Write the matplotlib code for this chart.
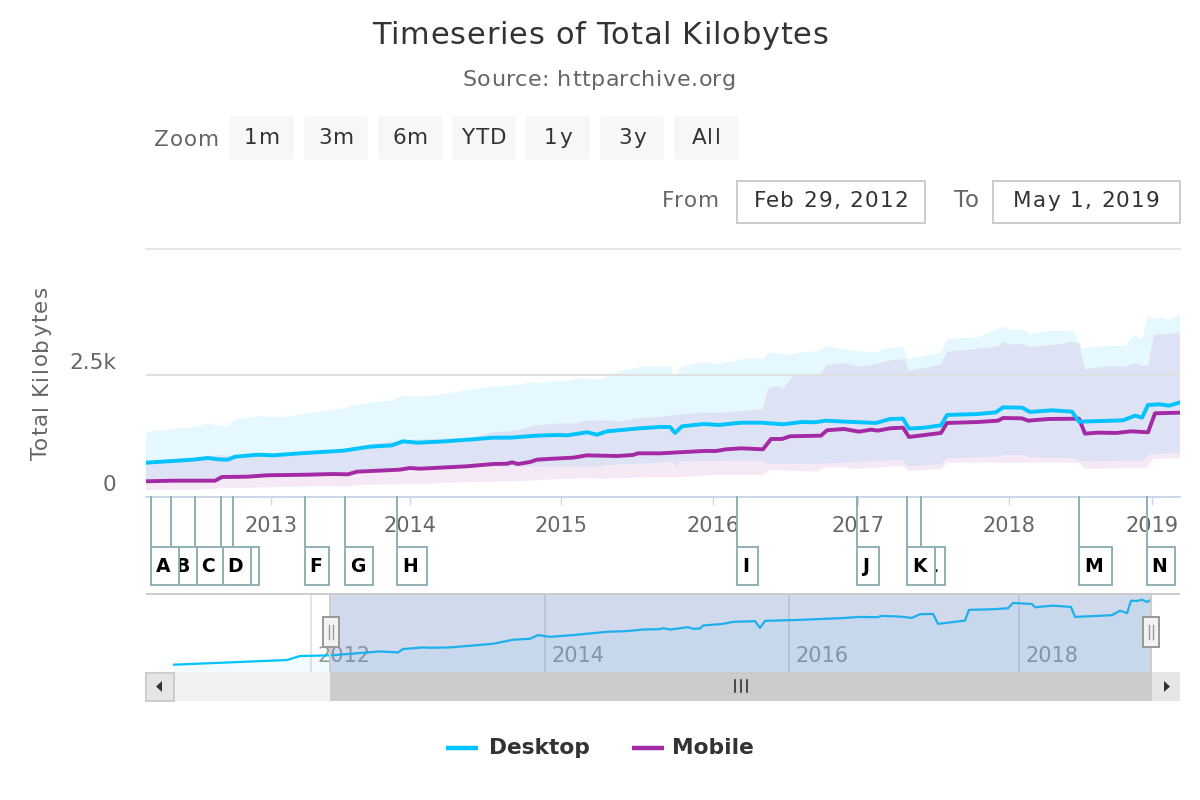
import numpy as np
import matplotlib
matplotlib.use('Agg')
import matplotlib.pyplot as plt
from matplotlib.patches import Rectangle, Polygon, FancyBboxPatch
from matplotlib.font_manager import FontProperties
from matplotlib.textpath import text_to_path

# Highstock ordinal axis: x is the slot position along the axis, not a date
desktop = [(146,703),(173,738),(193,765),(208,799),(218,772),(228,765),(235,826),(258,867),(273,854),
           (300,895),(343,949),(370,1031),(392,1059),(403,1141),(417,1113),(440,1134),(473,1182),(493,1216),
           (510,1216),(537,1257),(557,1271),(567,1264),(587,1326),(597,1277),(607,1346),(640,1408),(660,1435),
           (670,1435),(675,1312),(682,1449),(704,1496),(719,1476),(741,1523),(761,1523),(783,1490),(802,1537),
           (815,1531),(826,1564),(846,1543),(876,1517),(890,1599),(903,1605),(909,1400),(924,1421),(941,1469),
           (947,1681),(978,1701),(996,1736),(1003,1838),(1022,1831),(1030,1743),(1052,1777),(1072,1749),
           (1079,1543),(1103,1558),(1123,1572),(1135,1667),(1142,1626),(1148,1886),(1160,1900),(1169,1872),(1180,1940)]
mobile = [(146,322),(173,334),(193,334),(215,334),(222,410),(247,416),(267,445),(307,457),(333,471),(348,465),
          (357,519),(400,560),(410,594),(420,580),(467,629),(493,676),(507,682),(512,711),(518,676),(530,717),
          (537,765),(553,785),(573,806),(587,854),(617,840),(633,861),(638,895),(660,895),(704,943),(716,943),
          (726,977),(741,998),(763,977),(771,1189),(782,1189),(790,1244),(821,1257),(827,1367),(844,1394),
          (859,1339),(871,1380),(878,1360),(890,1408),(903,1421),(909,1230),(941,1312),(947,1517),(978,1537),
          (998,1564),(1003,1619),(1022,1612),(1028,1564),(1049,1599),(1079,1605),(1085,1298),(1098,1319),
          (1116,1312),(1131,1346),(1148,1326),(1155,1715),(1180,1728)]
desktop_hi = [(146,1318),(153,1359),(170,1374),(177,1408),(192,1421),(208,1510),(220,1455),(228,1455),(235,1592),
              (243,1605),(260,1660),(273,1633),(283,1640),(317,1736),(343,1818),(370,1940),(392,1974),(405,2091),
              (413,2050),(437,2091),(483,2240),(517,2296),(530,2351),(542,2330),(553,2384),(563,2357),(580,2439),
              (590,2412),(602,2412),(610,2521),(640,2665),(660,2678),(670,2678),(675,2433),(680,2665),(704,2774),
              (719,2726),(745,2835),(763,2835),(768,2958),(790,2910),(802,2972),(817,2986),(826,3100),(843,3018),
              (873,2958),(890,3060),(903,3081),(908,2828),(941,2958),(947,3237),(979,3278),(1003,3489),(1011,3422),
              (1023,3443),(1030,3327),(1049,3408),(1074,3402),(1082,3046),(1099,3087),(1125,3100),(1135,3320),
              (1142,3217),(1148,3709),(1153,3648),(1160,3682),(1169,3627),(1180,3750)]
desktop_lo = [(146,320),(215,340),(222,420),(307,470),(357,530),(407,590),(473,621),(523,621),(573,635),(597,621),
              (607,656),(660,703),(672,724),(677,621),(680,724),(761,744),(768,676),(817,676),(886,744),(903,758),
              (908,621),(941,676),(947,793),(998,826),(1003,861),(1023,861),(1030,813),(1074,793),(1082,724),
              (1143,744),(1148,861),(1180,915)]
mobile_hi = [(146,724),(220,861),(235,826),(283,895),(343,963),(370,1086),(407,1168),(473,1223),(493,1326),(517,1359),
             (533,1461),(560,1510),(577,1510),(583,1558),(607,1572),(623,1551),(640,1619),(660,1640),(677,1681),
             (704,1736),(719,1722),(763,1804),(768,2228),(777,2275),(783,2214),(793,2487),(821,2535),(827,2706),
             (844,2747),(859,2671),(876,2726),(893,2808),(905,2822),(908,2583),(941,2712),(947,2979),(998,3081),
             (1003,3184),(1011,3122),(1023,3136),(1030,3075),(1062,3136),(1071,3184),(1079,3151),(1085,2617),
             (1099,2658),(1108,2678),(1125,2665),(1135,2747),(1142,2685),(1148,2692),(1154,3327),(1180,3367)]
mobile_lo = [(146,143),(193,143),(220,178),(273,199),(327,225),(347,211),(360,246),(407,260),(473,307),(520,322),
             (553,363),(590,389),(600,375),(660,410),(684,410),(711,451),(763,451),(770,553),(817,519),(826,608),
             (843,608),(856,574),(880,608),(903,635),(908,539),(941,567),(947,703),(1079,703),(1085,574),(1147,594),
             (1153,779),(1180,793)]
navigator = [(174,542),(240,599),(287,640),(300,724),(330,737),(380,820),(398,799),(403,870),(423,904),(430,897),
             (450,904),(493,981),(513,1065),(530,1086),(538,1163),(550,1127),(573,1163),(607,1232),(627,1247),
             (643,1280),(660,1288),(663,1309),(670,1280),(688,1330),(693,1295),(700,1301),(703,1364),(723,1399),
             (733,1441),(755,1456),(760,1315),(765,1462),(800,1483),(840,1518),(860,1545),(877,1539),(882,1566),
             (900,1552),(912,1524),(920,1602),(933,1608),(938,1399),(965,1468),(969,1692),(993,1706),(1008,1727),
             (1013,1838),(1032,1817),(1035,1748),(1053,1782),(1071,1754),(1075,1545),(1097,1566),(1112,1581),
             (1120,1677),(1127,1623),(1131,1886),(1137,1880),(1142,1907),(1147,1859),(1150,1894)]

# letter, stem position, box left, box right
flags = [('A',151,151,179),('B',171,171,197),('C',195,197,223),('D',221,223,251),('E',233,233,259),
         ('F',305,305,329),('G',345,345,373),('H',397,397,427),('I',737,737,758),('J',857,857,879),
         ('K',907,907,935),('L',921,921,945),('M',1079,1079,1112),('N',1147,1147,1175)]

year_ticks = {'2013':271,'2014':410,'2015':561,'2016':713,'2017':858,'2018':1009,'2019':1152}
nav_ticks = {'2012':311,'2014':545,'2016':789,'2018':1019}

DESKTOP = '#00c3ff'
MOBILE = '#a429a4'
TEXT = '#666666'
W, H = 1200, 800


def make_axes(fig, left, right, top, bottom):
    return fig.add_axes([left/W, 1-bottom/H, (right-left)/W, (bottom-top)/H])


def band(ax, hi, lo, color):
    hi, lo = np.array(hi), np.array(lo)
    ax.fill(np.r_[hi[:, 0], lo[::-1, 0]], np.r_[hi[:, 1], lo[::-1, 1]], color=color, alpha=0.1, lw=0, zorder=2)


def width_px(s, fp):
    # measure with a bar on the end so trailing spaces count
    w = text_to_path.get_text_width_height_descent(s + '|', fp, False)[0]
    bar = text_to_path.get_text_width_height_descent('|', fp, False)[0]
    return (w - bar) * 100 / 72


def spaced(ax, x, y, s, size, spacing, color, ha='center', weight='normal', vertical=False):
    # the reference has letter-spacing, matplotlib text does not
    fp = FontProperties(family='DejaVu Sans', size=size, weight=weight)
    total = width_px(s, fp) + spacing*(len(s)-1)
    start = {'left': 0, 'center': -total/2, 'right': -total}[ha]
    for i, ch in enumerate(s):
        # prefix width minus own width keeps the kerning pairs
        off = start + width_px(s[:i+1], fp) - width_px(ch, fp) + spacing*i
        if vertical:
            ax.text(x, y-off, ch, fontproperties=fp, color=color, rotation=90, ha='left', va='baseline',
                    rotation_mode='anchor')
        else:
            ax.text(x+off, y, ch, fontproperties=fp, color=color, ha='left', va='baseline')


fig = plt.figure(figsize=(12, 8), dpi=100)

# main plot
ax = make_axes(fig, 146, 1180, 249, 497)
ax.set_xlim(146, 1180)
ax.set_ylim(0, 5082)
for s in ['left', 'right']:
    ax.spines[s].set_visible(False)
ax.spines['top'].set_color('#e6e6e6')
ax.spines['top'].set_linewidth(1.4)
ax.spines['bottom'].set_color('#ccd6eb')
ax.spines['bottom'].set_linewidth(1.4)
ax.axhline(2500, color='#e0e0e0', lw=1.4, zorder=3)
band(ax, desktop_hi, desktop_lo, DESKTOP)
band(ax, mobile_hi, mobile_lo, MOBILE)
for data, color in [(mobile, MOBILE), (desktop, DESKTOP)]:
    d = np.array(data)
    ax.plot(d[:, 0], d[:, 1], color=color, lw=2.8, zorder=4)
ax.set_xticks(list(year_ticks.values()), list(year_ticks.keys()))
ax.tick_params(axis='x', length=6, width=1, color='#ccd6eb', labelcolor=TEXT, labelsize=15, pad=8)
ax.set_yticks([])
fig.text(116/W, 1-363/H, '2.5k', ha='right', va='center', color=TEXT, fontsize=15.5)
fig.text(116/W, 1-485/H, '0', ha='right', va='center', color=TEXT, fontsize=15.5)

# flags hang below the axis, same y scale
stem_end, box_bottom, box_mid = -1024, -1804, -1434
for i, (letter, stem, left, right) in enumerate(flags):
    z = 30 + 2*(len(flags)-i)
    ax.plot([stem, stem], [stem_end, 0], color='#8fb0b5', lw=1.4, clip_on=False, zorder=6)
    ax.add_patch(Rectangle((left, box_bottom), right-left, stem_end-box_bottom, fc='white', ec='#8fb0b5',
                           lw=1.4, clip_on=False, zorder=z))
    ax.text((left+right)/2-1.5, box_mid, letter, ha='center', va='center', fontsize=13.5, fontweight='bold',
            color='black', clip_on=False, zorder=z+1)

# navigator
nav = make_axes(fig, 146, 1180, 593, 672)
nav.set_xlim(146, 1180)
nav.set_ylim(388, 2047)
for s in nav.spines.values():
    s.set_visible(False)
nav.set_xticks([])
nav.set_yticks([])
for label, x in nav_ticks.items():
    nav.axvline(x, color='#e3e3e3', lw=1.4, zorder=1)
    nav.annotate(label, (x, 0), xycoords=('data', 'axes fraction'), xytext=(5, 11.5), textcoords='offset points',
                 ha='left', va='center', color='#999999', fontsize=15, zorder=2)
n = np.array(navigator)
nav.fill_between(n[:, 0], n[:, 1], 388, color=DESKTOP, alpha=0.05, lw=0, zorder=2)
nav.plot(n[:, 0], n[:, 1], color=DESKTOP, lw=1.6, zorder=3)
nav.axvspan(330, 1151, color='#6685c2', alpha=0.3, lw=0, zorder=4)
nav.axvline(330, color='#cccccc', lw=1.4, zorder=5)
nav.axvline(1151, color='#cccccc', lw=1.4, zorder=5)
nav.axhline(2047, color='#cccccc', lw=2.8, zorder=5)

# everything else is page furniture, drawn in pixels
page = fig.add_axes([0, 0, 1, 1], zorder=20)
page.set_xlim(0, W)
page.set_ylim(H, 0)
page.axis('off')
page.patch.set_alpha(0)

# navigator handles
for x in [331, 1151]:
    page.add_patch(Rectangle((x-8, 617), 16, 30, fc='#f2f2f2', ec='#999999', lw=1.4))
    page.plot([x-2, x-2], [625, 639], color='#999999', lw=1)
    page.plot([x+2, x+2], [625, 639], color='#999999', lw=1)

# scrollbar
page.add_patch(Rectangle((146, 672), 1034, 29, fc='#f2f2f2', lw=0))
page.add_patch(Rectangle((330, 672), 822, 29, fc='#cccccc', lw=0))
for x in [735, 741, 747]:
    page.plot([x, x], [680, 692], color='#333333', lw=1.2)
page.add_patch(Rectangle((145.5, 672.5), 28, 28, fc='#e6e6e6', ec='#cccccc', lw=1.4))
page.add_patch(Rectangle((1152, 672), 28, 29, fc='#e6e6e6', lw=0))
page.add_patch(Polygon([(162, 681), (162, 692), (156, 686.5)], fc='#333333', lw=0))
page.add_patch(Polygon([(1164, 681), (1164, 692), (1170, 686.5)], fc='#333333', lw=0))

# title block
spaced(page, 600, 43.5, 'Timeseries of Total Kilobytes', 22, 0.75, '#333333')
spaced(page, 599, 86, 'Source: httparchive.org', 16, 0.55, TEXT)

# range selector
spaced(page, 154, 146, 'Zoom', 15.5, 1.0, TEXT, ha='left')
for label, left in zip(['1m', '3m', '6m', 'YTD', '1y', '3y', 'All'], [230, 304, 378, 452, 526, 600, 674]):
    page.add_patch(FancyBboxPatch((left+3, 119), 58, 38, boxstyle='round,pad=3,rounding_size=3', fc='#f7f7f7', lw=0))
    spaced(page, left+32, 144, label, 15.5, 1.3, '#333333')
spaced(page, 719, 207, 'From', 15.5, 1.3, TEXT, ha='right')
spaced(page, 979, 207, 'To', 16.5, 1.3, TEXT, ha='right')
for left, right, label in [(737, 925, 'Feb 29, 2012'), (993, 1180, 'May 1, 2019')]:
    page.add_patch(Rectangle((left, 181), right-left, 42, fc='white', ec='#cccccc', lw=1.4))
    spaced(page, (left+right)/2, 207, label, 15.5, 1.3, '#333333')

# axis title
spaced(page, 47, 373, 'Total Kilobytes', 15.5, 1.3, TEXT, vertical=True)

# legend
page.plot([446, 478], [748, 748], color=DESKTOP, lw=3.2, solid_capstyle='butt')
page.text(489, 748, 'Desktop', ha='left', va='center', color='#333333', fontsize=15.7, fontweight='bold')
page.plot([632, 664], [748, 748], color=MOBILE, lw=3.2, solid_capstyle='butt')
page.text(672, 748, 'Mobile', ha='left', va='center', color='#333333', fontsize=15.7, fontweight='bold')

plt.savefig('out.png', dpi=100)
